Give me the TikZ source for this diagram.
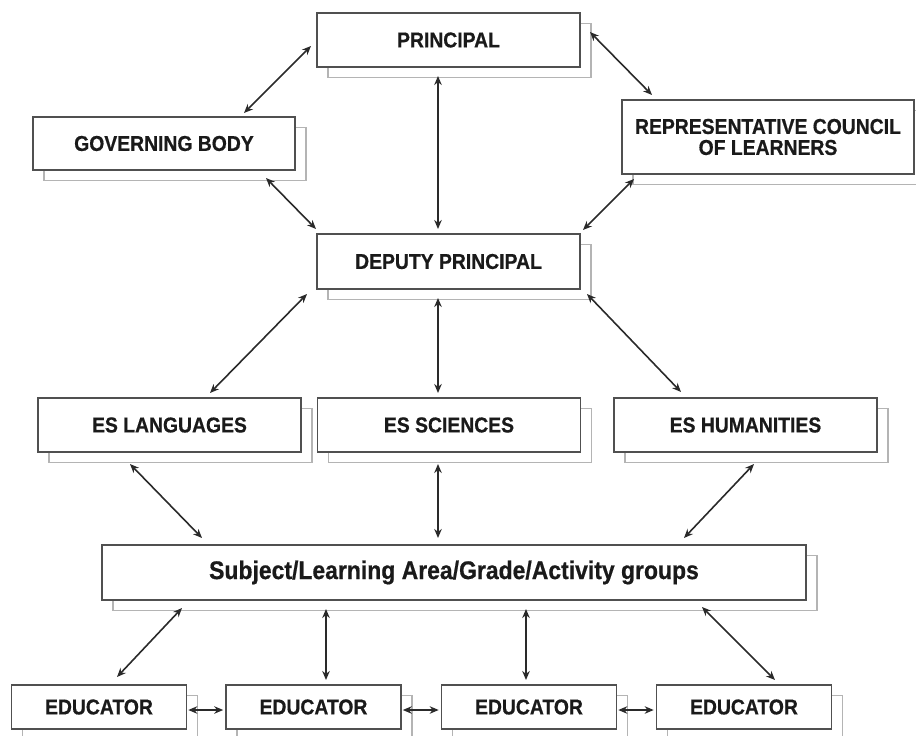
\documentclass[tikz,border=0pt]{standalone}
\usepackage{fontspec}
\newfontfamily\boxfont{Liberation Sans}[FakeStretch=0.9,FakeBold=0.6]
\usetikzlibrary{arrows.meta,shadows}
\definecolor{boxline}{HTML}{505050}
\definecolor{shadline}{HTML}{B4B4B4}
\definecolor{arrline}{HTML}{2A2A2A}
\definecolor{txt}{HTML}{1A1A1A}
\tikzset{
  orgbox/.style={draw=boxline, line width=1.6pt, fill=white, rectangle,
    inner sep=0pt, text=txt, align=center,
    font=\boxfont\bfseries\fontsize{21.5}{21}\selectfont,
    general shadow={shadow xshift=11pt, shadow yshift=-10.5pt, draw=shadline, fill=white, line width=1.3pt}},
  wbox/.style={orgbox, minimum width=263pt, minimum height=54pt},
  ebox/.style={orgbox, minimum width=175pt, minimum height=44pt},
  arr/.style={draw=arrline, line width=1.6pt, {Stealth[length=9pt,width=7.5pt]}-{Stealth[length=9pt,width=7.5pt]}}
}
\begin{document}
\begin{tikzpicture}[x=1pt,y=-1pt]
\useasboundingbox (0,0) rectangle (916,736);
% boxes
\node[wbox] (prin) at (448.5,40) {PRINCIPAL};
\node[orgbox, minimum width=262pt, minimum height=53pt] (gov) at (164,143.5) {GOVERNING BODY};
\node[orgbox, minimum width=292pt, minimum height=74pt] (rep) at (768,137) {REPRESENTATIVE COUNCIL\\OF LEARNERS};
\node[orgbox, minimum width=263pt, minimum height=55pt] (dep) at (448.5,261.5) {DEPUTY PRINCIPAL};
\node[wbox] (esl) at (169.5,425) {ES LANGUAGES};
\node[wbox] (ess) at (449,425) {ES SCIENCES};
\node[wbox] (esh) at (745.5,425) {ES HUMANITIES};
\node[orgbox, minimum width=704pt, minimum height=55pt,
      font=\boxfont\bfseries\fontsize{25.5}{25}\selectfont] (subj) at (454,572.5) {Subject/Learning Area/Grade/Activity groups};
\node[ebox] (edu1) at (99,707) {EDUCATOR};
\node[ebox] (edu2) at (313.5,707) {EDUCATOR};
\node[ebox] (edu3) at (529,707) {EDUCATOR};
\node[ebox] (edu4) at (744,707) {EDUCATOR};
% connectors
\draw[arr] ([shift={(80,-30.5)}]gov.center) -- ([shift={(-137.5,6)}]prin.center);
\draw[arr] ([shift={(141.5,-8)}]prin.center) -- ([shift={(-116,-42)}]rep.center);
\draw[arr] ([shift={(-10.5,36)}]prin.center) -- ([shift={(-10.5,-32.5)}]dep.center);
\draw[arr] ([shift={(102,34.5)}]gov.center) -- ([shift={(-132.5,-32.5)}]dep.center);
\draw[arr] ([shift={(-134,42)}]rep.center) -- ([shift={(134.5,-31.5)}]dep.center);
\draw[arr] ([shift={(-141.5,32.5)}]dep.center) -- ([shift={(40.5,-32)}]esl.center);
\draw[arr] ([shift={(-10.5,36.5)}]dep.center) -- ([shift={(-11,-32)}]ess.center);
\draw[arr] ([shift={(138.5,32.5)}]dep.center) -- ([shift={(-64.5,-33)}]esh.center);
\draw[arr] ([shift={(-39.5,39)}]esl.center) -- ([shift={(-252,-34.5)}]subj.center);
\draw[arr] ([shift={(-11,39)}]ess.center) -- ([shift={(-16,-34.5)}]subj.center);
\draw[arr] ([shift={(8.5,39)}]esh.center) -- ([shift={(230,-34.5)}]subj.center);
\draw[arr] ([shift={(-272,35.5)}]subj.center) -- ([shift={(18,-30)}]edu1.center);
\draw[arr] ([shift={(-128,36.5)}]subj.center) -- ([shift={(12.5,-27)}]edu2.center);
\draw[arr] ([shift={(72,36.5)}]subj.center) -- ([shift={(-3,-27)}]edu3.center);
\draw[arr] ([shift={(248,34.5)}]subj.center) -- ([shift={(31,-27)}]edu4.center);
\draw[arr] ([shift={(1,3)}]edu1.east) -- ([shift={(-2,3)}]edu2.west);
\draw[arr] ([shift={(1,3)}]edu2.east) -- ([shift={(-2,3)}]edu3.west);
\draw[arr] ([shift={(1,3)}]edu3.east) -- ([shift={(-2,3)}]edu4.west);
\end{tikzpicture}
\end{document}
